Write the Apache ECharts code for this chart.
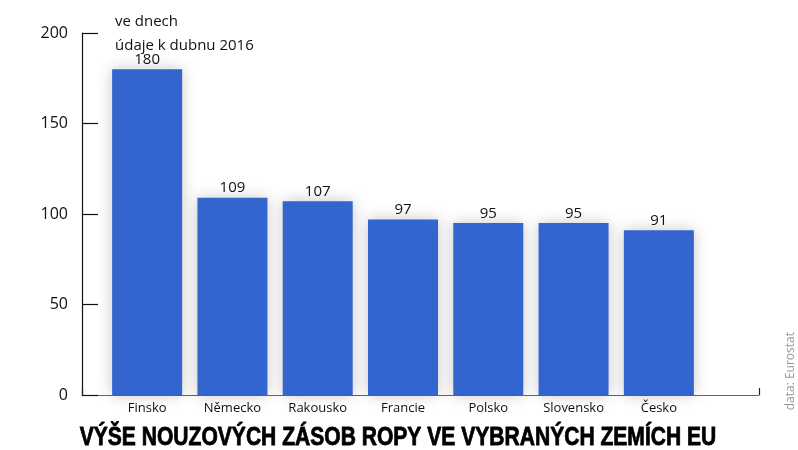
<!DOCTYPE html>
<html>
<head>
<meta charset="utf-8">
<script src="https://cdn.jsdelivr.net/npm/echarts@6/dist/echarts.min.js"></script>
<style>
html,body{margin:0;padding:0;background:#fff;}
#c{width:798px;height:450px;}
</style>
</head>
<body>
<div id="c"></div>
<script>
const categories = ["Finsko","Německo","Rakousko","Francie","Polsko","Slovensko","Česko"];
const values = [180,109,107,97,95,95,91];
const yTicks = [0,50,100,150,200];
const titleText = "VÝŠE NOUZOVÝCH ZÁSOB ROPY VE VYBRANÝCH ZEMÍCH EU";
const subtitleText = "ve dnech\núdaje k dubnu 2016";
const sourceText = "data: Eurostat";

const chart = echarts.init(document.getElementById('c'));
const font = "'Open Sans', 'Noto Sans', sans-serif";
chart.setOption({
  backgroundColor: '#fff',
  animation: false,
  title: [{
    text: subtitleText,
    left: 110,
    top: 5,
    textStyle: {fontFamily: font, fontWeight: 'normal', fontSize: 15, color: '#111', lineHeight: 24}
  }],
  graphic: [{
    type: 'text',
    x: 398,
    y: 438,
    scaleX: 0.81,
    style: {
      text: titleText,
      font: "bold 26px 'Liberation Sans', sans-serif",
      fill: '#000',
      stroke: '#000',
      lineWidth: 0.8,
      textAlign: 'center',
      textVerticalAlign: 'middle',
      shadowColor: 'rgba(0,0,0,0.35)',
      shadowBlur: 4
    }
  },{
    type: 'text',
    right: 1,
    top: 332,
    rotation: Math.PI/2,
    style: {text: sourceText, font: "12px 'Open Sans', sans-serif", fill: '#999'}
  }],
  grid: [
    {left: 82, right: 39, top: 33, bottom: 55},
    {left: 104.5, right: 96.5, top: 33, bottom: 55}
  ],
  xAxis: [{
    type: 'value', gridIndex: 0, min: 0, max: 1, interval: 1,
    axisLine: {show: true, lineStyle: {color: '#666', width: 1.2}},
    axisTick: {show: true, inside: true, length: 7, lineStyle: {color: '#222', width: 1.2}},
    axisLabel: {show: false}, splitLine: {show: false}
  },{
    type: 'category', gridIndex: 1, data: categories,
    axisLine: {show: false}, axisTick: {show: false},
    axisLabel: {fontFamily: font, fontSize: 13, color: '#111', margin: 7}
  }],
  yAxis: [{
    type: 'value', gridIndex: 0, min: 0, max: 200, interval: 50,
    axisLine: {show: true, lineStyle: {color: '#111', width: 1.2}},
    axisTick: {show: true, inside: true, length: 16, lineStyle: {color: '#111', width: 1.2}},
    axisLabel: {fontFamily: font, fontSize: 16, color: '#111', margin: 14,
      formatter: v => yTicks.indexOf(v) >= 0 ? String(v) : ''},
    splitLine: {show: false}
  },{
    type: 'value', gridIndex: 1, min: 0, max: 200, interval: 50, show: false
  }],
  series: [{
    type: 'bar', xAxisIndex: 1, yAxisIndex: 1,
    data: values, barWidth: 70,
    itemStyle: {color: '#3465cf', shadowColor: 'rgba(0,0,0,0.22)', shadowBlur: 14},
    label: {show: true, position: 'top', distance: 2, fontFamily: font, fontSize: 15, color: '#111'}
  }]
});
</script>
</body>
</html>
